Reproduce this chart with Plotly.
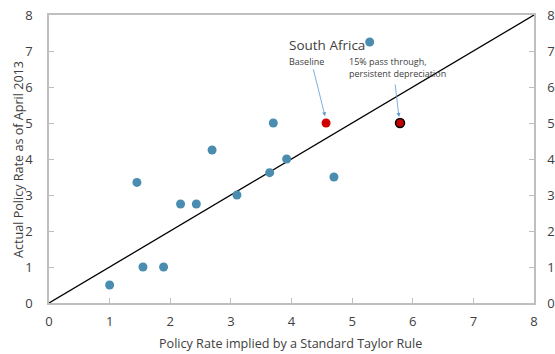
import plotly.graph_objects as go

# Data
other_x = [1.0, 1.45, 1.55, 1.89, 2.17, 2.43, 2.69, 3.10, 3.64, 3.70, 3.92, 4.70, 5.29]
other_y = [0.5, 3.35, 1.0, 1.0, 2.75, 2.75, 4.25, 3.0, 3.62, 5.0, 4.0, 3.5, 7.25]
sa_base_x = [4.57]
sa_base_y = [5.0]
sa_dep_x = [5.79]
sa_dep_y = [5.0]
line_x = [0, 8]
line_y = [0, 8]
ticks = [0, 1, 2, 3, 4, 5, 6, 7, 8]

FONT = "Open Sans"
AXC = "#bfbfbf"
TXT = "#404040"

fig = go.Figure()
fig.add_trace(go.Scatter(x=line_x, y=line_y, mode="lines",
                         line=dict(color="black", width=1.3), hoverinfo="skip"))
fig.add_trace(go.Scatter(x=other_x, y=other_y, mode="markers",
                         marker=dict(color="#4a8db0", size=9)))
fig.add_trace(go.Scatter(x=sa_base_x, y=sa_base_y, mode="markers",
                         marker=dict(color="#d00000", size=9)))
fig.add_trace(go.Scatter(x=sa_dep_x, y=sa_dep_y, mode="markers",
                         marker=dict(color="#c00000", size=9,
                                     line=dict(color="black", width=1.5))))
# dummy trace for right axis
fig.add_trace(go.Scatter(x=[None], y=[None], yaxis="y2", showlegend=False))

axis_common = dict(range=[0, 8], tickvals=ticks, showgrid=False, zeroline=False,
                   showline=True, linecolor=AXC, linewidth=1.5,
                   ticks="inside", ticklen=5, tickcolor=AXC, automargin=False,
                   tickfont=dict(family=FONT, size=13, color=TXT))

fig.update_layout(
    width=555, height=354,
    margin=dict(l=49, r=21, t=15, b=51),
    paper_bgcolor="white", plot_bgcolor="white",
    showlegend=False,
    font=dict(family=FONT, color=TXT),
    xaxis=dict(**axis_common, mirror=True, ticklabelstandoff=6),
    yaxis=dict(**axis_common, mirror=True, ticklabelstandoff=12),
    yaxis2=dict(**axis_common, overlaying="y", side="right", ticklabelstandoff=9),
)

plot_h = 354 - 15 - 51
plot_w = 555 - 49 - 21
annos = [
    dict(x=(290 - 49) / plot_w, y=-(343 - 303) / plot_h, xref="paper", yref="paper",
         text="Policy Rate implied by a Standard Taylor Rule", showarrow=False,
         xanchor="center", yanchor="middle",
         font=dict(family=FONT, size=12.6, color=TXT)),
    dict(x=-(49 - 18) / plot_w, y=(303 - 160) / plot_h, xref="paper", yref="paper",
         text="Actual Policy Rate as of April 2013", showarrow=False,
         textangle=-90, xanchor="center", yanchor="middle",
         font=dict(family=FONT, size=12.6, color=TXT)),
    dict(x=3.96, y=7.17, text="South Africa", showarrow=False, xanchor="left",
         yanchor="middle", xshift=-2, font=dict(family=FONT, size=13.5, color=TXT)),
    dict(x=3.975, y=6.72, text="Baseline", showarrow=False, xanchor="left",
         yanchor="middle", xshift=-3, font=dict(family=FONT, size=9, color=TXT)),
    dict(x=4.95, y=6.53, text="15% pass through,<br>persistent depreciation",
         showarrow=False, xanchor="left", yanchor="middle", align="left", xshift=-2,
         font=dict(family=FONT, size=9, color=TXT)),
    dict(x=4.553, y=5.19, ax=4.355, ay=6.53, axref="x", ayref="y", text="",
         showarrow=True, arrowhead=2, arrowsize=1, arrowwidth=0.8, arrowcolor="#5b9bd5"),
    dict(x=5.773, y=5.17, ax=5.707, ay=6.11, axref="x", ayref="y", text="",
         showarrow=True, arrowhead=2, arrowsize=1, arrowwidth=0.8, arrowcolor="#5b9bd5"),
]
fig.update_layout(annotations=annos)

fig.write_html("out.html", config={"displayModeBar": False},
               post_script="document.body.style.margin='0px';document.body.style.overflow='hidden';")
